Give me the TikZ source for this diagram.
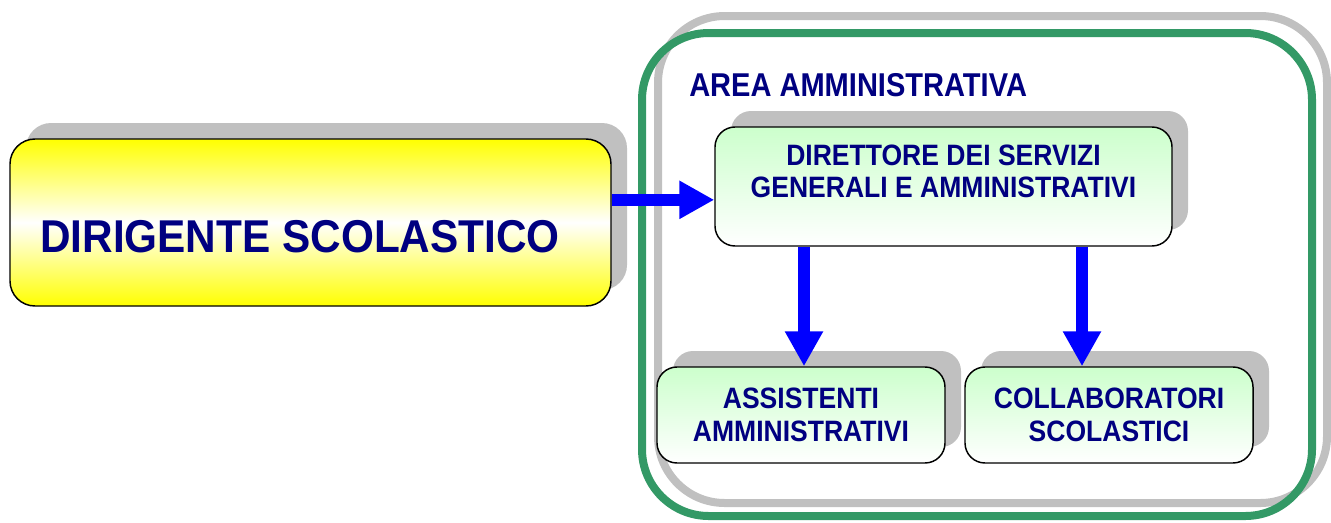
\documentclass[tikz,border=0pt]{standalone}
\usepackage{fontspec}
\setmainfont{Liberation Sans}
\newfontfamily\bigfont{Liberation Sans}[FakeStretch=0.92]
\newfontfamily\midfont{Liberation Sans}[FakeStretch=0.88]
\newfontfamily\smallfont{Liberation Sans}[FakeStretch=0.9]
\usetikzlibrary{arrows.meta,shadows}
\definecolor{navytext}{HTML}{000080}
\definecolor{silver}{HTML}{C0C0C0}
\definecolor{framegreen}{HTML}{339966}
\definecolor{palegreen}{HTML}{CCFFCC}
\definecolor{arrowblue}{HTML}{0000FF}
\tikzset{
  boxshadow/.style={drop shadow={shadow xshift=12pt, shadow yshift=12pt, fill=silver, opacity=1}},
  orgbox/.style={draw=black, line width=1.1pt, inner sep=0pt, boxshadow},
  greenbox/.style={orgbox, rounded corners=15pt, top color=palegreen, bottom color=white,
    minimum width=216pt, minimum height=72pt, align=center, text=navytext,
    font=\smallfont\bfseries\fontsize{22.1}{24.5}\selectfont},
  yellowbox/.style={orgbox, rounded corners=18.75pt, top color=yellow, bottom color=yellow, middle color=white,
    minimum width=450.75pt, minimum height=125.25pt},
  bigarrow/.style={draw=arrowblue, line width=9pt, -{Triangle[length=26.25pt,width=27pt]}, fill=arrowblue},
  frame/.style={line width=6pt, rounded corners=50pt},
  boxtext/.style={text=navytext, inner sep=0pt, align=center}
}
\begin{document}
\begin{tikzpicture}[x=0.75pt,y=-0.75pt]
\useasboundingbox (0,0) rectangle (1331,522);
% frames of the administrative area
\draw[frame, silver] (658,16) rectangle (1327,503);
\draw[frame, framegreen] (642,33) rectangle (1312,516);
% boxes
\node[yellowbox] (ds) at (310.5,222.5) {};
\node[boxtext, font=\bigfont\bfseries\fontsize{34.5}{40}\selectfont] (dstext) at ([xshift=-7.9pt,yshift=-10.5pt]ds.center) {DIRIGENTE SCOLASTICO};
\node[boxtext, anchor=base west, font=\midfont\bfseries\fontsize{24.75}{28}\selectfont] (area) at (689,96) {AREA AMMINISTRATIVA};
\node[greenbox, minimum width=342.75pt, minimum height=89.25pt] (dsga) at (943.5,186.5) {};
\node[boxtext, font=\smallfont\bfseries\fontsize{22.1}{24}\selectfont] (dsgatext) at ([yshift=11.25pt]dsga.center) {DIRETTORE DEI SERVIZI\\GENERALI E AMMINISTRATIVI};
\node[greenbox] (asst) at (801,415) {ASSISTENTI\\AMMINISTRATIVI};
\node[greenbox] (collab) at (1109,415) {COLLABORATORI\\SCOLASTICI};
% connectors
\coordinate (hin) at ([yshift=-10pt]dsga.west);
\coordinate (a1) at ([xshift=2.25pt]asst.north);
\coordinate (a2) at ([xshift=-20.25pt]collab.north);
\draw[bigarrow] (ds.east |- hin) -- (hin);
\draw[bigarrow] (dsga.south -| a1) -- (a1);
\draw[bigarrow] (dsga.south -| a2) -- (a2);
\end{tikzpicture}
\end{document}
